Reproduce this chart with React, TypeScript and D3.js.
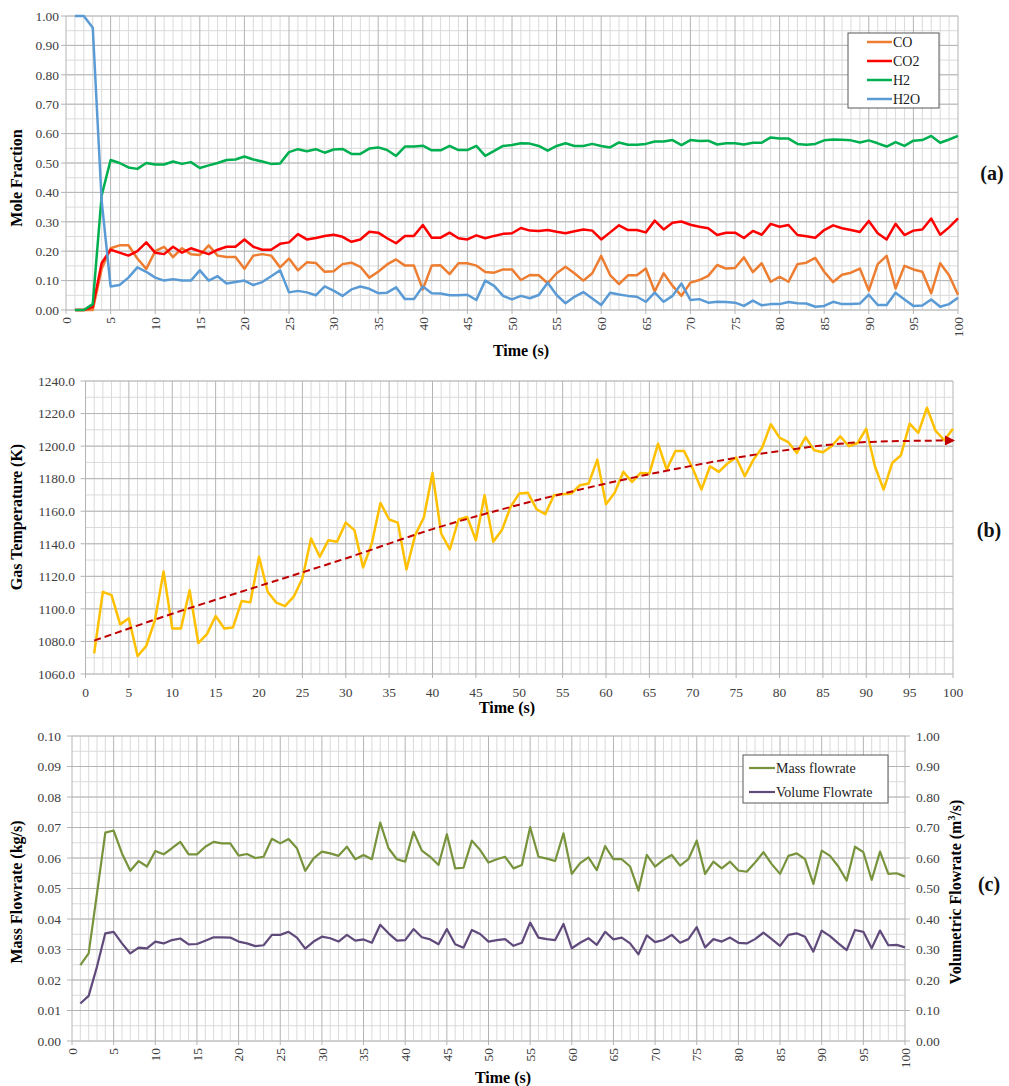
import React from 'react';
import * as d3 from 'd3';

const W = 1009;
const H = 1086;
const FONT = '"Liberation Serif", "Times New Roman", serif';

// ---------- data ----------
const time = d3.range(1, 101);

const coData = [
  0, 0, 0.0, 0.14, 0.21, 0.22, 0.22, 0.175, 0.14, 0.2,
  0.215, 0.18, 0.21, 0.19, 0.187, 0.22, 0.185, 0.18, 0.18, 0.14,
  0.185, 0.19, 0.185, 0.145, 0.175, 0.135, 0.162, 0.16, 0.13, 0.132,
  0.156, 0.161, 0.147, 0.11, 0.13, 0.155, 0.172, 0.151, 0.151, 0.07,
  0.151, 0.152, 0.122, 0.159, 0.159, 0.151, 0.129, 0.127, 0.138, 0.138,
  0.102, 0.119, 0.118, 0.091, 0.125, 0.147, 0.125, 0.1, 0.125, 0.184,
  0.119, 0.088, 0.118, 0.118, 0.141, 0.063, 0.125, 0.082, 0.048, 0.093,
  0.102, 0.116, 0.153, 0.141, 0.143, 0.179, 0.129, 0.159, 0.096, 0.113,
  0.096, 0.156, 0.161, 0.177, 0.13, 0.095, 0.12, 0.127, 0.141, 0.066,
  0.156, 0.184, 0.073, 0.15, 0.138, 0.13, 0.057, 0.159, 0.118, 0.052,
];

const co2Data = [
  0, 0, 0.01, 0.16, 0.205, 0.195, 0.185, 0.2, 0.23, 0.195,
  0.19, 0.215, 0.195, 0.21, 0.2, 0.19, 0.205, 0.215, 0.215, 0.24,
  0.215, 0.205, 0.205, 0.225, 0.23, 0.258, 0.24, 0.245, 0.252, 0.256,
  0.249, 0.232, 0.24, 0.266, 0.263, 0.244, 0.227, 0.252, 0.252, 0.289,
  0.246, 0.246, 0.263, 0.244, 0.24, 0.254, 0.244, 0.252, 0.259, 0.261,
  0.279, 0.27, 0.269, 0.272, 0.266, 0.261, 0.268, 0.274, 0.27, 0.24,
  0.264, 0.288, 0.272, 0.272, 0.264, 0.304, 0.274, 0.297, 0.301, 0.29,
  0.283, 0.278, 0.255, 0.263, 0.263, 0.245, 0.269, 0.256, 0.293, 0.283,
  0.289, 0.255, 0.251, 0.246, 0.272, 0.288, 0.278, 0.272, 0.265, 0.303,
  0.261, 0.24, 0.293, 0.255, 0.27, 0.274, 0.311, 0.256, 0.281, 0.312,
];

const h2Data = [
  0, 0, 0.02, 0.39, 0.51, 0.5, 0.485, 0.48, 0.5, 0.495,
  0.495, 0.505, 0.497, 0.503, 0.483, 0.492, 0.5, 0.51, 0.512, 0.522,
  0.512, 0.505, 0.497, 0.498, 0.537, 0.547, 0.54, 0.547, 0.535, 0.546,
  0.548, 0.531, 0.531, 0.549, 0.553, 0.544, 0.524, 0.556, 0.556, 0.559,
  0.543, 0.543, 0.558, 0.544, 0.544, 0.558, 0.524, 0.541, 0.558, 0.561,
  0.567, 0.566, 0.558, 0.542, 0.558, 0.567, 0.558, 0.558, 0.565, 0.558,
  0.553, 0.57, 0.562, 0.562, 0.565, 0.573, 0.573, 0.578, 0.561, 0.578,
  0.575, 0.576, 0.563, 0.567, 0.567, 0.563, 0.569, 0.569, 0.587, 0.583,
  0.583, 0.565, 0.562, 0.565, 0.577, 0.58, 0.579, 0.577, 0.57, 0.577,
  0.567, 0.556, 0.571, 0.558, 0.576, 0.578, 0.592, 0.569, 0.58, 0.592,
];

const h2oData = [
  1.0, 1.0, 0.96, 0.37, 0.08, 0.085, 0.11, 0.145, 0.13, 0.11,
  0.1, 0.105, 0.1, 0.1, 0.135, 0.1, 0.115, 0.09, 0.095, 0.1,
  0.085, 0.095, 0.115, 0.135, 0.06, 0.065, 0.06, 0.05, 0.08, 0.066,
  0.048, 0.07, 0.08, 0.072, 0.057, 0.059, 0.077, 0.037, 0.037, 0.08,
  0.057, 0.056, 0.05, 0.05, 0.052, 0.034, 0.1, 0.082, 0.048, 0.036,
  0.048, 0.04, 0.051, 0.093, 0.051, 0.023, 0.045, 0.061, 0.039, 0.017,
  0.059, 0.053, 0.048, 0.045, 0.028, 0.059, 0.028, 0.048, 0.09, 0.034,
  0.037, 0.025, 0.028, 0.027, 0.025, 0.014, 0.032, 0.016, 0.02, 0.02,
  0.027, 0.023, 0.022, 0.011, 0.014, 0.028, 0.02, 0.02, 0.022, 0.052,
  0.017, 0.017, 0.059, 0.036, 0.014, 0.015, 0.036, 0.011, 0.02, 0.042,
];

const tempData = [
  1072.7, 1110.5, 1108.5, 1090.5, 1094.2, 1071, 1077.2, 1093, 1123, 1088,
  1088, 1111.5, 1079, 1084.5, 1095.6, 1088, 1088.6, 1104.8, 1104, 1132,
  1110.5, 1103.8, 1101.7, 1107.5, 1118.7, 1143.2, 1132, 1142.2, 1141.2, 1153,
  1148.4, 1125.5, 1140.2, 1165.1, 1154.9, 1153, 1124.2, 1145.3, 1156.1, 1183.5,
  1146.3, 1136.5, 1154.9, 1156.5, 1142.2, 1169.8, 1141.2, 1148.4, 1162.7, 1170.9,
  1171.3, 1161.2, 1158.2, 1169.8, 1170.5, 1170.9, 1176, 1177, 1191.7, 1164.3,
  1171.3, 1184.2, 1178, 1183.5, 1183.1, 1201.5, 1185.6, 1197, 1197, 1186.2,
  1173.3, 1187.6, 1184.2, 1189.3, 1193, 1181.5, 1191.7, 1199.1, 1213.4, 1205.2,
  1202.5, 1195.8, 1205.6, 1197.4, 1196.2, 1199.9, 1206, 1199.9, 1201.9, 1210.7,
  1187.6, 1173.3, 1189.7, 1194.4, 1213.8, 1208.1, 1223.6, 1209.3, 1203.6, 1210.7,
];

const trendTime = [1, 10, 20, 30, 40, 50, 60, 70, 80, 90, 100];
const trendData = [1080.5, 1097, 1114, 1131, 1149, 1164, 1177, 1188, 1197, 1202.5, 1203.5];

const massData = [
  0.0249, 0.0287, 0.0484, 0.0683, 0.069, 0.0615, 0.0558, 0.059, 0.0572, 0.0623,
  0.0612, 0.0632, 0.0653, 0.0612, 0.0612, 0.0637, 0.0653, 0.0648, 0.0648, 0.0608,
  0.0613, 0.06, 0.0604, 0.0663, 0.0648, 0.0662, 0.0632, 0.0558, 0.0599, 0.0621,
  0.0615, 0.0607, 0.0637, 0.0596, 0.061, 0.0596, 0.0716, 0.0632, 0.0596, 0.0588,
  0.0686, 0.0624, 0.0604, 0.0577, 0.0678, 0.0566, 0.0568, 0.0657, 0.0626, 0.0585,
  0.0596, 0.0604, 0.0566, 0.0577, 0.0701, 0.0604, 0.0598, 0.059, 0.0681, 0.0548,
  0.0583, 0.0602, 0.056, 0.0639, 0.0596, 0.0596, 0.0572, 0.0493, 0.061, 0.0572,
  0.0594, 0.061, 0.0575, 0.0596, 0.0657, 0.0548, 0.0588, 0.0566, 0.0588, 0.0559,
  0.0555, 0.0585, 0.0619, 0.058, 0.0548, 0.0607, 0.0615, 0.0596, 0.0515, 0.0624,
  0.0607, 0.0572, 0.0526, 0.0637, 0.0619, 0.0528, 0.0621, 0.0548, 0.055, 0.0539,
];

const volumeData = [
  0.123, 0.148, 0.244, 0.353, 0.358, 0.32, 0.287, 0.306, 0.304, 0.326,
  0.32, 0.331, 0.336, 0.317, 0.318, 0.329, 0.34, 0.34, 0.339, 0.326,
  0.32, 0.311, 0.314, 0.348, 0.348, 0.358, 0.339, 0.303, 0.326, 0.342,
  0.337, 0.326, 0.348, 0.329, 0.333, 0.322, 0.381, 0.353, 0.329, 0.331,
  0.367, 0.34, 0.333, 0.317, 0.367, 0.317, 0.306, 0.364, 0.351, 0.326,
  0.331, 0.334, 0.312, 0.322, 0.388, 0.339, 0.334, 0.331, 0.384, 0.304,
  0.322, 0.337, 0.315, 0.358, 0.333, 0.339, 0.32, 0.284, 0.346, 0.324,
  0.331, 0.348, 0.322, 0.334, 0.373, 0.307, 0.334, 0.326, 0.339, 0.322,
  0.32, 0.334, 0.355, 0.334, 0.312, 0.348, 0.353, 0.342, 0.293, 0.362,
  0.344, 0.32, 0.298, 0.364, 0.358, 0.304, 0.362, 0.314, 0.315, 0.307,
];

const gasSeries = [
  { name: 'CO', values: coData, color: '#ED7D31' },
  { name: 'CO2', values: co2Data, color: '#FF0000' },
  { name: 'H2', values: h2Data, color: '#00B050' },
  { name: 'H2O', values: h2oData, color: '#5B9BD5' },
];

const xTicks = d3.range(0, 101, 5);
const xMinor = d3.range(0, 101, 1);

// ---------- helpers ----------
const MAJOR = '#b4b4b4';
const MINOR = '#dadada';
const TICKCOL = '#404040';

function Grid({ xs, ys, xMinorVals, yMinorVals, yMajorVals }) {
  const [x0, x1] = xs.range();
  const [y0, y1] = ys.range();
  return (
    <g>
      {yMinorVals.map((v, i) => (
        <line key={'hy' + i} x1={x0} x2={x1} y1={ys(v)} y2={ys(v)} stroke={MINOR} strokeWidth={1} />
      ))}
      {xMinorVals.map((v, i) => (
        <line key={'vx' + i} x1={xs(v)} x2={xs(v)} y1={y0} y2={y1}
          stroke={v % 5 === 0 ? MAJOR : MINOR} strokeWidth={1} />
      ))}
      {yMajorVals.map((v, i) => (
        <line key={'my' + i} x1={x0 - 5} x2={x1} y1={ys(v)} y2={ys(v)} stroke={MAJOR} strokeWidth={1} />
      ))}
      {xTicks.map((v, i) => (
        <line key={'tx' + i} x1={xs(v)} x2={xs(v)} y1={y0} y2={y0 + 4} stroke={MAJOR} strokeWidth={1} />
      ))}
    </g>
  );
}

function App() {
  // ---- panel a ----
  const xa = d3.scaleLinear().domain([0, 100]).range([66, 958]);
  const ya = d3.scaleLinear().domain([0, 1]).range([310, 16]);
  const lineA = (vals) =>
    d3.line<number>().x((_, i) => xa(time[i])).y((d) => ya(d))(vals) || '';

  // ---- panel b ----
  const xb = d3.scaleLinear().domain([0, 100]).range([85.5, 953]);
  const yb = d3.scaleLinear().domain([1060, 1240]).range([674, 381]);
  const tempPath = d3.line<number>().x((_, i) => xb(time[i])).y((d) => yb(d))(tempData) || '';
  const trendPath =
    d3.line<number>().curve(d3.curveMonotoneX).x((_, i) => xb(trendTime[i])).y((d) => yb(d))(trendData) || '';

  // ---- panel c ----
  const xc = d3.scaleLinear().domain([0, 100]).range([72, 905]);
  const yc = d3.scaleLinear().domain([0, 0.1]).range([1041, 736]);
  const ycR = d3.scaleLinear().domain([0, 1]).range([1041, 736]);
  const massPath = d3.line<number>().x((_, i) => xc(time[i])).y((d) => yc(d))(massData) || '';
  const volPath = d3.line<number>().x((_, i) => xc(time[i])).y((d) => ycR(d))(volumeData) || '';

  const aMajor = d3.range(0, 1.0001, 0.1);
  const aMinor = d3.range(0, 1.0001, 0.05);
  const bMajor = d3.range(1060, 1240.1, 20);
  const bMinor = d3.range(1060, 1240.1, 10);
  const cMajor = d3.range(0, 0.10001, 0.01);
  const cMinor = d3.range(0, 0.10001, 0.005);
  const cRight = d3.range(0, 1.0001, 0.1);

  return (
    <svg width={W} height={H} style={{ position: 'absolute', left: 0, top: 0, background: '#fff' }}
      fontFamily={FONT}>
      <defs>
        <marker id="arrow" viewBox="0 0 10 10" refX="8" refY="5" markerWidth="5" markerHeight="5"
          orient="auto" markerUnits="strokeWidth">
          <path d="M0,0 L10,5 L0,10 z" fill="#C00000" />
        </marker>
      </defs>
      <rect x={0} y={0} width={W} height={H} fill="#fff" />

      {/* ================= Panel (a) ================= */}
      <Grid xs={xa} ys={ya} xMinorVals={xMinor} yMinorVals={aMinor} yMajorVals={aMajor} />
      {aMajor.map((v, i) => (
        <text key={'ay' + i} x={59} y={ya(v)} dy="0.35em" textAnchor="end" fontSize={13.5} fill={TICKCOL}>
          {v.toFixed(2)}
        </text>
      ))}
      {xTicks.map((v, i) => (
        <text key={'ax' + i} transform={`translate(${xa(v)},317) rotate(-90)`} dy="0.35em"
          textAnchor="end" fontSize={13.5} fill={TICKCOL}>
          {v}
        </text>
      ))}
      {gasSeries.map((s) => (
        <path key={s.name} d={lineA(s.values)} fill="none" stroke={s.color} strokeWidth={2.5}
          strokeLinejoin="round" />
      ))}
      <text transform="translate(22,178) rotate(-90)" textAnchor="middle" fontSize={16} fontWeight="bold">
        Mole Fraction
      </text>
      <text x={521} y={356} textAnchor="middle" fontSize={16} fontWeight="bold">
        Time (s)
      </text>
      <g>
        <rect x={848} y={33} width={91} height={75} fill="#fff" stroke="#595959" strokeWidth={1} />
        {gasSeries.map((s, i) => (
          <g key={'lg' + s.name} transform={`translate(0,${42 + i * 19})`}>
            <line x1={867} x2={892} y1={0} y2={0} stroke={s.color} strokeWidth={2.5} />
            <text x={893} y={0} dy="0.35em" fontSize={14} fill="#222">
              {s.name}
            </text>
          </g>
        ))}
      </g>
      <text x={992} y={173} dy="0.35em" textAnchor="middle" fontSize={20} fontWeight="bold" fill="#111">
        (a)
      </text>

      {/* ================= Panel (b) ================= */}
      <Grid xs={xb} ys={yb} xMinorVals={xMinor} yMinorVals={bMinor} yMajorVals={bMajor} />
      {bMajor.map((v, i) => (
        <text key={'by' + i} x={75} y={yb(v)} dy="0.35em" textAnchor="end" fontSize={13.5} fill={TICKCOL}>
          {v.toFixed(1)}
        </text>
      ))}
      {xTicks.map((v, i) => (
        <text key={'bx' + i} x={xb(v)} y={692} dy="0.35em" textAnchor="middle" fontSize={13.5} fill={TICKCOL}>
          {v}
        </text>
      ))}
      <path d={tempPath} fill="none" stroke="#FFC000" strokeWidth={2.5} strokeLinejoin="round" />
      <path d={trendPath} fill="none" stroke="#C00000" strokeWidth={2} strokeDasharray="7,4"
        markerEnd="url(#arrow)" />
      <text transform="translate(22,517) rotate(-90)" textAnchor="middle" fontSize={16} fontWeight="bold">
        Gas Temperature (K)
      </text>
      <text x={507} y={713} textAnchor="middle" fontSize={16} fontWeight="bold">
        Time (s)
      </text>
      <text x={989} y={530} dy="0.35em" textAnchor="middle" fontSize={20} fontWeight="bold" fill="#111">
        (b)
      </text>

      {/* ================= Panel (c) ================= */}
      <Grid xs={xc} ys={yc} xMinorVals={xMinor} yMinorVals={cMinor} yMajorVals={cMajor} />
      {cRight.map((v, i) => (
        <line key={'crt' + i} x1={905} x2={910} y1={ycR(v)} y2={ycR(v)} stroke={MAJOR} />
      ))}
      {cMajor.map((v, i) => (
        <text key={'cy' + i} x={61} y={yc(v)} dy="0.35em" textAnchor="end" fontSize={13.5} fill={TICKCOL}>
          {v.toFixed(2)}
        </text>
      ))}
      {cRight.map((v, i) => (
        <text key={'cyr' + i} x={916} y={ycR(v)} dy="0.35em" textAnchor="start" fontSize={13.5} fill={TICKCOL}>
          {v.toFixed(2)}
        </text>
      ))}
      {xTicks.map((v, i) => (
        <text key={'cx' + i} transform={`translate(${xc(v)},1048) rotate(-90)`} dy="0.35em"
          textAnchor="end" fontSize={13.5} fill={TICKCOL}>
          {v}
        </text>
      ))}
      <path d={massPath} fill="none" stroke="#77933C" strokeWidth={2.2} strokeLinejoin="round" />
      <path d={volPath} fill="none" stroke="#604A7B" strokeWidth={2.2} strokeLinejoin="round" />
      <text transform="translate(22,892) rotate(-90)" textAnchor="middle" fontSize={16} fontWeight="bold">
        Mass Flowrate (kg/s)
      </text>
      <text transform="translate(961,892) rotate(-90)" textAnchor="middle" fontSize={16} fontWeight="bold">
        Volumetric Flowrate (m<tspan dy="-6" fontSize={10}>3</tspan><tspan dy="6">/s)</tspan>
      </text>
      <text x={503} y={1083} textAnchor="middle" fontSize={16} fontWeight="bold">
        Time (s)
      </text>
      <g>
        <rect x={743} y={755} width={145} height={48} fill="#fff" stroke="#595959" strokeWidth={1} />
        <line x1={749} x2={775} y1={768} y2={768} stroke="#77933C" strokeWidth={2.2} />
        <text x={776} y={768} dy="0.35em" fontSize={14} fill="#222">Mass flowrate</text>
        <line x1={749} x2={775} y1={792} y2={792} stroke="#604A7B" strokeWidth={2.2} />
        <text x={776} y={792} dy="0.35em" fontSize={14} fill="#222">Volume Flowrate</text>
      </g>
      <text x={989} y={884} dy="0.35em" textAnchor="middle" fontSize={20} fontWeight="bold" fill="#111">
        (c)
      </text>
    </svg>
  );
}

export default App;
